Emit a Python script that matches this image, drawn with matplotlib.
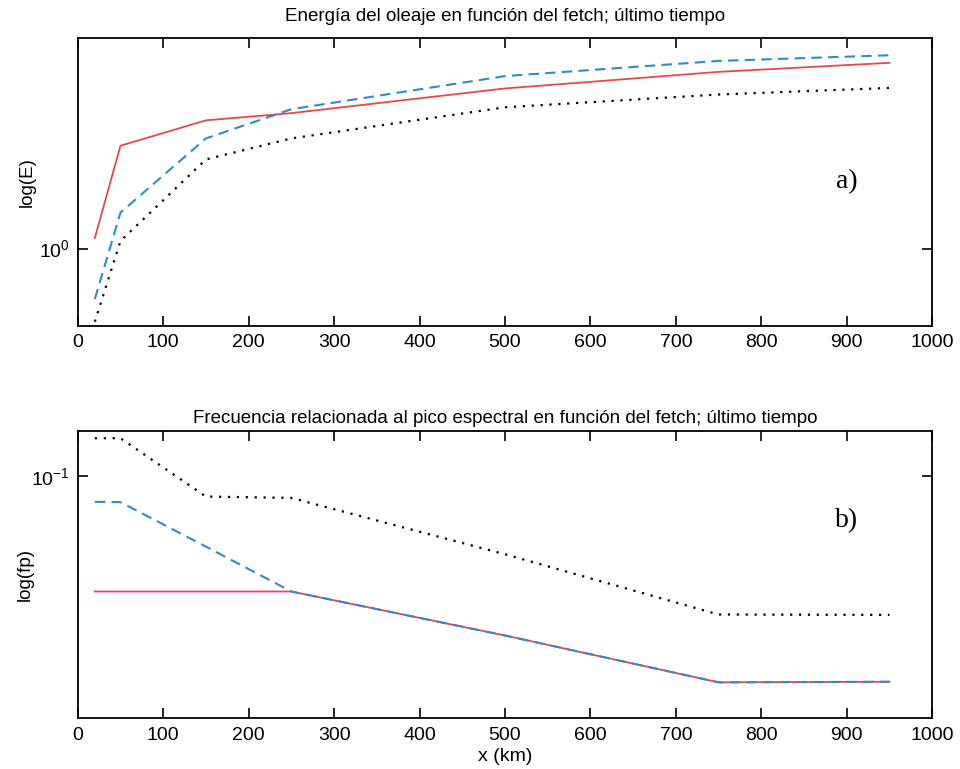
import numpy as np
import matplotlib
matplotlib.use("Agg")
import matplotlib.pyplot as plt
from matplotlib.ticker import NullLocator, FixedLocator

plt.rcParams['font.family'] = ['Liberation Sans', 'DejaVu Sans']
plt.rcParams['mathtext.fontset'] = 'custom'
plt.rcParams['mathtext.rm'] = 'Liberation Sans'

# fetch (km)
x = [20, 50, 150, 250, 500, 750, 950]

# a) energia
E_roja = [1.10, 2.51, 3.15, 3.36, 4.19, 4.86, 5.27]
E_azul = [0.637, 1.38, 2.68, 3.48, 4.68, 5.36, 5.64]
E_negra = [0.52, 1.07, 2.22, 2.68, 3.54, 3.97, 4.21]

# b) frecuencia pico
fp_roja = [0.0465, 0.0465, 0.0465, 0.0465, 0.0347, 0.0254, 0.0255]
fp_azul = [0.0845, 0.0843, 0.0627, 0.0465, 0.0347, 0.0254, 0.0255]
fp_negra = [0.129, 0.129, 0.0875, 0.0867, 0.0596, 0.0399, 0.0398]

rojo = '#e8474f'
azul = '#2f8cc4'

fig = plt.figure(figsize=(9.6, 7.69), dpi=100)
ax1 = fig.add_axes([0.081, 0.576, 0.89, 0.375])
ax2 = fig.add_axes([0.081, 0.066, 0.89, 0.373])

def estilo(ax):
    ax.set_yscale('log')
    ax.set_xlim(0, 1000)
    ax.set_xticks(range(0, 1001, 100))
    ax.yaxis.set_minor_locator(NullLocator())
    ax.tick_params(direction='in', top=True, right=True, length=7, width=1.2,
                   labelsize=14, pad=6)
    for s in ax.spines.values():
        s.set_linewidth(1.3)

# panel a
ax1.plot(x, E_roja, color=rojo, lw=1.3)
ax1.plot(x, E_azul, color=azul, lw=1.5, ls=(0, (5, 3)))
ax1.plot(x, E_negra, color='black', lw=1.6, ls=(0, (1, 3)))
estilo(ax1)
ax1.set_ylim(0.5, 6.6)
ax1.yaxis.set_major_locator(FixedLocator([1]))
ax1.set_ylabel('log(E)', fontsize=13.5, labelpad=2)
ax1.set_title('Energía del oleaje en función del fetch; último tiempo', fontsize=13.5, pad=12)
ax1.text(0.90, 0.50, 'a)', transform=ax1.transAxes, fontsize=20,
         family='Liberation Serif', ha='center', va='center')

# panel b
ax2.plot(x, fp_roja, color=rojo, lw=1.3)
ax2.plot(x, fp_azul, color=azul, lw=1.5, ls=(0, (5, 3)))
ax2.plot(x, fp_negra, color='black', lw=1.6, ls=(0, (1, 3)))
estilo(ax2)
ax2.set_ylim(0.02, 0.135)
ax2.yaxis.set_major_locator(FixedLocator([0.1]))
ax2.set_ylabel('log(fp)', fontsize=13.5, labelpad=-2)
ax2.set_xlabel('x (km)', fontsize=14, labelpad=3)
ax2.set_title('Frecuencia relacionada al pico espectral en función del fetch; último tiempo',
              fontsize=13.5, pad=6)
ax2.text(0.90, 0.69, 'b)', transform=ax2.transAxes, fontsize=20,
         family='Liberation Serif', ha='center', va='center')

fig.savefig('out.png', dpi=100)
